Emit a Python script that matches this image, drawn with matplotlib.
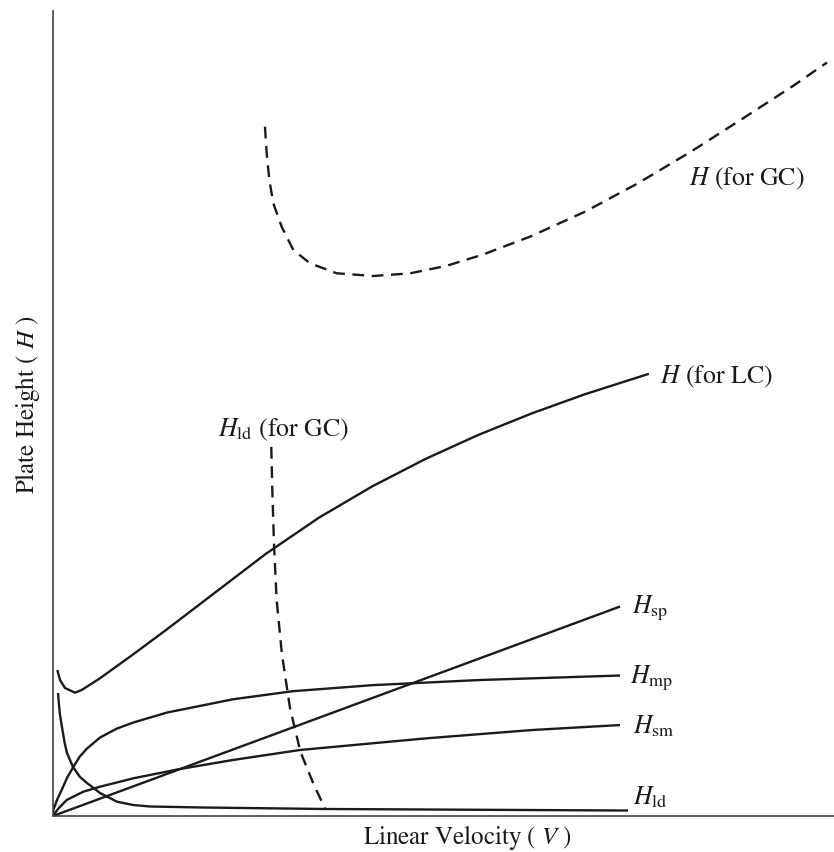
"""Plate height vs linear velocity: van Deemter-style contributions for GC and LC."""

import matplotlib
matplotlib.use("Agg")
import matplotlib.pyplot as plt

plt.rcParams["font.family"] = ["STIXGeneral", "DejaVu Serif"]
plt.rcParams["mathtext.fontset"] = "stix"

INK = "#1a1a1a"

# ---------------------------------------------------------------------------
# Curves (arbitrary units, x and y both 0..100)
# ---------------------------------------------------------------------------
h_gc_x = [27.14, 27.36, 27.70, 28.21, 29.28, 30.77, 32.91, 36.33, 41.01, 45.71,
          50.41, 55.10, 61.08, 68.12, 74.90, 81.75, 88.57, 94.75, 99.10]
h_gc_y = [85.63, 82.32, 79.01, 76.11, 73.20, 70.31, 68.66, 67.42, 67.08, 67.41,
          68.35, 69.76, 71.97, 75.07, 78.60, 82.57, 86.80, 90.69, 93.60]

h_lc_x = [0.55, 0.90, 1.54, 2.82, 3.67, 6.02, 10.24, 14.56, 20.46, 27.27,
          34.07, 40.88, 47.70, 54.51, 61.32, 68.13, 76.30]
h_lc_y = [18.14, 16.89, 15.90, 15.32, 15.65, 17.11, 20.06, 23.17, 27.54, 32.58,
          37.07, 40.95, 44.36, 47.36, 50.02, 52.40, 54.93]

h_ld_gc_x = [27.95, 28.08, 28.30, 28.63, 29.31, 30.35, 31.69, 33.39, 34.89]
h_ld_gc_y = [45.85, 40.43, 33.66, 26.89, 20.12, 13.37, 7.95, 3.89, 0.83]

h_sp_x = [0.0, 72.60]
h_sp_y = [0.0, 26.02]

h_mp_x = [0.0, 0.04, 0.51, 1.11, 1.79, 2.60, 3.40, 4.32, 6.02, 8.16, 10.24,
          14.60, 23.05, 30.68, 40.85, 54.55, 72.60]
h_mp_y = [0.0, 0.75, 1.99, 3.23, 4.72, 6.10, 7.35, 8.35, 9.75, 10.85, 11.60,
          12.85, 14.50, 15.50, 16.25, 16.89, 17.45]

h_sm_x = [0.0, 0.64, 1.75, 3.88, 6.02, 10.28, 16.26, 23.05, 31.63, 47.70, 61.33, 72.60]
h_sm_y = [0.0, 0.87, 1.99, 3.02, 3.64, 4.68, 5.84, 6.96, 8.20, 9.64, 10.68, 11.30]

h_ld_x = [0.64, 0.77, 0.90, 1.15, 1.47, 1.79, 2.56, 3.46, 4.35, 6.02,
          8.19, 10.24, 12.42, 18.82, 34.83, 73.62]
h_ld_y = [15.28, 13.79, 12.55, 11.06, 9.19, 7.83, 6.09, 4.84, 4.10, 2.86,
          1.78, 1.37, 1.18, 1.06, 0.87, 0.68]


def main() -> None:
    fig = plt.figure(figsize=(8.34, 8.52), dpi=100)
    ax = fig.add_axes([53 / 834, 36 / 852, 781 / 834, 805 / 852])

    solid = dict(color=INK, linewidth=1.7, solid_capstyle="butt",
                 solid_joinstyle="round")
    dashed = dict(color=INK, linewidth=1.7, linestyle=(0, (5.0, 3.2)))

    ax.plot(h_gc_x, h_gc_y, **dashed)
    ax.plot(h_ld_gc_x, h_ld_gc_y, **dashed)
    ax.plot(h_lc_x, h_lc_y, **solid)
    ax.plot(h_sp_x, h_sp_y, **solid)
    ax.plot(h_mp_x, h_mp_y, **solid)
    ax.plot(h_sm_x, h_sm_y, **solid)
    ax.plot(h_ld_x, h_ld_y, **solid)

    # curve labels
    fs = 18.5
    ax.text(81.4, 78.4, r"$H$ (for GC)", fontsize=fs, color=INK, va="baseline")
    ax.text(77.7, 53.8, r"$H$ (for LC)", fontsize=fs, color=INK, va="baseline")
    ax.text(21.1, 47.2, r"$H_{\rm ld}$ (for GC)", fontsize=fs, color=INK, va="baseline")
    ax.text(74.1, 25.2, r"$H_{\rm sp}$", fontsize=fs, color=INK, va="baseline")
    ax.text(73.9, 16.5, r"$H_{\rm mp}$", fontsize=fs, color=INK, va="baseline")
    ax.text(74.3, 10.3, r"$H_{\rm sm}$", fontsize=fs, color=INK, va="baseline")
    ax.text(74.3, 1.4, r"$H_{\rm ld}$", fontsize=fs, color=INK, va="baseline")

    ax.set_xlim(0, 100)
    ax.set_ylim(0, 100)
    ax.set_xticks([])
    ax.set_yticks([])
    for side in ("top", "right"):
        ax.spines[side].set_visible(False)
    for side in ("left", "bottom"):
        ax.spines[side].set_color("#444444")
        ax.spines[side].set_linewidth(1.2)

    fig.text(468 / 834, 1 - 838 / 852, r"Linear Velocity ( $V$ )", fontsize=18,
             color=INK, ha="center", va="center")
    fig.text(28 / 834, 1 - 405 / 852, r"Plate Height ( $H$ )", fontsize=18,
             color=INK, ha="center", va="center", rotation=90)

    fig.savefig("out.png", dpi=100)
    plt.close(fig)


if __name__ == "__main__":
    main()
